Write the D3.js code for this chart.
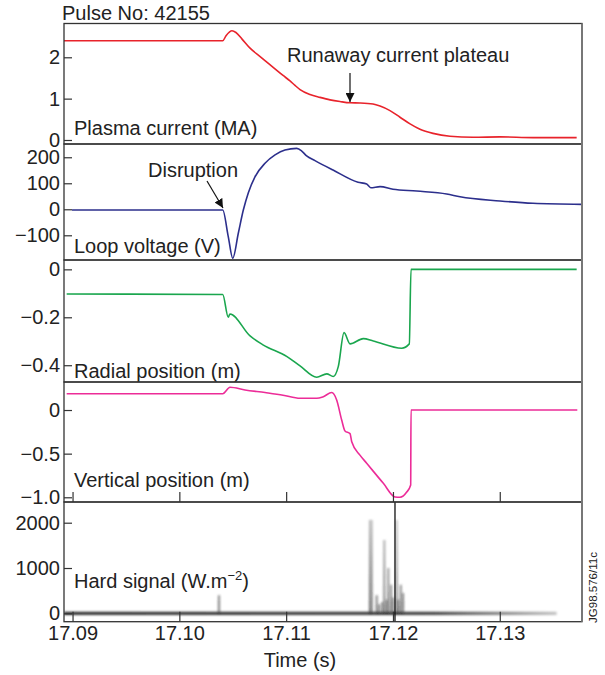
<!DOCTYPE html>
<html>
<head>
<meta charset="utf-8">
<script src="https://cdn.jsdelivr.net/npm/d3@7"></script>
<style>
body { margin: 0; background: #fff; }
text { font-family: "Liberation Sans", Arial, sans-serif; fill: #222; }
</style>
</head>
<body>
<script>
var width = 605, height = 675;
var left = 64, right = 582;

// time axis
var xTicks = [17.09, 17.10, 17.11, 17.12, 17.13];
var xTickLabels = ["17.09", "17.10", "17.11", "17.12", "17.13"];

// Plasma current (MA)
var ipTime = [17.0892, 17.10406, 17.10437, 17.10493, 17.10530, 17.10587, 17.10662, 17.10765, 17.10971, 17.11036,
  17.11083, 17.11130, 17.11223, 17.11317, 17.11411, 17.11504, 17.11598, 17.11691, 17.11813, 17.11879,
  17.11972, 17.12066, 17.12160, 17.12253, 17.12375, 17.12534, 17.12750, 17.13002, 17.13311, 17.13720];
var ipValue = [2.40, 2.40, 2.52, 2.64, 2.60, 2.44, 2.22, 2.00, 1.56, 1.43,
  1.32, 1.22, 1.10, 1.03, 0.97, 0.93, 0.90, 0.895, 0.87, 0.82,
  0.71, 0.55, 0.39, 0.26, 0.16, 0.09, 0.065, 0.075, 0.056, 0.056];
var ipTicks = [0, 1, 2];
var ipTickLabels = ["0", "1", "2"];

// Loop voltage (V)
var vlTime = [17.08995, 17.10406, 17.10458, 17.10500, 17.10552, 17.10599, 17.10646, 17.10708, 17.10802, 17.10896,
  17.10989, 17.11099, 17.11146, 17.11192, 17.11270, 17.11439, 17.11673, 17.11754, 17.11792, 17.11879,
  17.12000, 17.12222, 17.12503, 17.12628, 17.13002, 17.13311, 17.13767];
var vlValue = [-3, -3, -105, -188, -92, -3, 64, 125, 177, 209,
  228, 234, 224, 205, 187, 151, 104, 97, 83, 87,
  77, 70, 59, 48, 32, 23, 19];
var vlTicks = [-100, 0, 100, 200];
var vlTickLabels = ["\u2212100", "0", "100", "200"];

// Radial position (m)
var rpTime = [17.08945, 17.10406, 17.10458, 17.10474, 17.10662, 17.10783, 17.11008, 17.11130, 17.11286, 17.11380,
  17.11441, 17.11488, 17.11542, 17.11598, 17.11722, 17.11816, 17.12082, 17.12153, 17.12169, 17.13720];
var rpValue = [-0.103, -0.105, -0.20, -0.186, -0.278, -0.315, -0.364, -0.403, -0.45, -0.436,
  -0.447, -0.406, -0.264, -0.311, -0.289, -0.299, -0.329, -0.311, 0, 0];
var rpTicks = [-0.4, -0.2, 0];
var rpTickLabels = ["\u22120.4", "\u22120.2", "0"];

// Vertical position (m)
var zpTime = [17.08945, 17.10406, 17.10474, 17.10615, 17.10802, 17.10971, 17.11130, 17.11286, 17.11348, 17.11427,
  17.11473, 17.11520, 17.11551, 17.11598, 17.11614, 17.11691, 17.11754, 17.11910, 17.12019, 17.12066,
  17.12129, 17.12166, 17.12169, 17.13726];
var zpValue = [0.187, 0.187, 0.26, 0.23, 0.20, 0.17, 0.134, 0.134, 0.153, 0.20,
  0.115, -0.115, -0.24, -0.27, -0.364, -0.517, -0.61, -0.84, -0.996, -1.0,
  -0.94, -0.86, 0, 0];
var zpTicks = [-1.0, -0.5, 0];
var zpTickLabels = ["\u22121.0", "\u22120.5", "0"];

// Hard signal (W.m-2)
var hxStart = 17.0892, hxEnd = 17.13533;
var hxSpikeTime = [17.10371, 17.11785, 17.11800, 17.11848, 17.11870, 17.11900, 17.11919, 17.11940, 17.11956, 17.11982,
  17.12000, 17.12035, 17.12050, 17.12073, 17.12094];
var hxSpikeValue = [400, 2060, 2060, 400, 200, 250, 1620, 300, 1000, 630,
  350, 2060, 300, 630, 450];
var hxOffscale = [17.12019];
var hxTicks = [0, 1000, 2000];
var hxTickLabels = ["0", "1000", "2000"];

var svg = d3.select("body").append("svg")
    .attr("width", width)
    .attr("height", height);

var defs = svg.append("defs");
defs.append("filter").attr("id", "blur")
    .attr("filterUnits", "userSpaceOnUse")
    .attr("x", 0).attr("y", 0).attr("width", width).attr("height", height)
    .append("feGaussianBlur").attr("stdDeviation", 0.9);
var grad = defs.append("linearGradient").attr("id", "fade")
    .attr("gradientUnits", "userSpaceOnUse")
    .attr("x1", left).attr("x2", 557).attr("y1", 0).attr("y2", 0);
grad.append("stop").attr("offset", "0%").attr("stop-color", "#333");
grad.append("stop").attr("offset", "75%").attr("stop-color", "#444");
grad.append("stop").attr("offset", "100%").attr("stop-color", "#c4c4c4");
// spikes fade from dark at the base to light at the top
var sgrad = defs.append("linearGradient").attr("id", "spikeFade")
    .attr("gradientUnits", "userSpaceOnUse")
    .attr("x1", 0).attr("x2", 0).attr("y1", 614).attr("y2", 520);
sgrad.append("stop").attr("offset", "0%").attr("stop-color", "#222");
sgrad.append("stop").attr("offset", "100%").attr("stop-color", "#999");

var x = d3.scaleLinear().domain([17.0892, 17.1377]).range([left, right]);

var panels = [
  { top: 23.5, bottom: 144, domain: [-0.097, 2.817], ticks: ipTicks, labels: ipTickLabels,
    time: ipTime, value: ipValue, color: "#e8232b", title: "Plasma current (MA)", titleY: 135 },
  { top: 144, bottom: 260, domain: [-195, 251], ticks: vlTicks, labels: vlTickLabels,
    time: vlTime, value: vlValue, color: "#2c2f8c", title: "Loop voltage (V)", titleY: 253 },
  { top: 260, bottom: 382, domain: [-0.47, 0.039], ticks: rpTicks, labels: rpTickLabels,
    time: rpTime, value: rpValue, color: "#1aa64e", title: "Radial position (m)", titleY: 378 },
  { top: 382, bottom: 502, domain: [-1.054, 0.321], ticks: zpTicks, labels: zpTickLabels,
    time: zpTime, value: zpValue, color: "#ec2c98", title: "Vertical position (m)", titleY: 487 },
  { top: 502, bottom: 621.7, domain: [-185, 2457], ticks: hxTicks, labels: hxTickLabels,
    time: null, value: null, color: "#444", title: "Hard signal (W.m", titleY: 588 }
];

panels.forEach(function(p, i) {
  p.y = d3.scaleLinear().domain(p.domain).range([p.bottom, p.top]);
  var g = svg.append("g");

  g.append("clipPath").attr("id", "clip" + i)
    .append("rect")
    .attr("x", left).attr("y", p.top)
    .attr("width", right - left).attr("height", p.bottom - p.top);

  var ax = g.append("g")
      .attr("transform", "translate(" + left + ",0)")
      .call(d3.axisLeft(p.y).tickValues(p.ticks).tickSize(-8).tickPadding(4)
        .tickFormat(function(d, k) { return p.labels[k]; }));
  ax.select(".domain").remove();
  ax.selectAll("line").attr("stroke", "#333").attr("stroke-width", 1.2);
  ax.selectAll("text").style("font-size", "20px").attr("fill", "#222");

  p.titleNode = g.append("text")
    .attr("x", 74).attr("y", p.titleY)
    .style("font-size", "20px")
    .text(p.title);

  if (p.time) {
    var line = d3.line()
        .x(function(d) { return x(d[0]); })
        .y(function(d) { return p.y(d[1]); })
        .curve(d3.curveMonotoneX);
    g.append("path")
      .datum(d3.zip(p.time, p.value))
      .attr("clip-path", "url(#clip" + i + ")")
      .attr("fill", "none")
      .attr("stroke", p.color)
      .attr("stroke-width", 1.6)
      .attr("d", line);
  }
  p.g = g;
});

// hard signal marks
var hp = panels[4];
var hg = hp.g.append("g").attr("clip-path", "url(#clip4)");
hg.append("line")
  .attr("x1", x(hxStart)).attr("x2", x(hxEnd))
  .attr("y1", hp.y(0)).attr("y2", hp.y(0))
  .attr("stroke", "url(#fade)")
  .attr("stroke-width", 3.2)
  .attr("filter", "url(#blur)");
hg.selectAll(".spike")
  .data(d3.zip(hxSpikeTime, hxSpikeValue))
  .enter().append("line")
  .attr("class", "spike")
  .attr("x1", function(d) { return x(d[0]); })
  .attr("x2", function(d) { return x(d[0]) + 0.01; })
  .attr("y1", hp.y(0))
  .attr("y2", function(d) { return hp.y(d[1]); })
  .attr("stroke", "url(#spikeFade)")
  .attr("stroke-opacity", 0.55)
  .attr("stroke-width", 2.2)
  .attr("filter", "url(#blur)");
hg.selectAll(".offscale")
  .data(hxOffscale)
  .enter().append("line")
  .attr("x1", function(d) { return x(d); })
  .attr("x2", function(d) { return x(d); })
  .attr("y1", hp.y(-185)).attr("y2", hp.y(2457))
  .attr("stroke", "#111")
  .attr("stroke-width", 1.3);

// superscript on the hard signal unit
hp.titleNode.append("tspan").attr("dy", -8).style("font-size", "13px").text("\u22122");
hp.titleNode.append("tspan").attr("dy", 8).text(")");

// x ticks on the two bottom panels
[3, 4].forEach(function(i) {
  var p = panels[i];
  var xa = svg.append("g")
      .attr("transform", "translate(0," + p.bottom + ")")
      .call(d3.axisBottom(x).tickValues(xTicks).tickSize(-10).tickPadding(4)
        .tickFormat(function(d, k) { return i === 4 ? xTickLabels[k] : ""; }));
  xa.select(".domain").remove();
  xa.selectAll("line").attr("stroke", "#333").attr("stroke-width", 1.2);
  xa.selectAll("text").style("font-size", "20px").attr("fill", "#222");
});

// frames
panels.forEach(function(p) {
  svg.append("rect")
    .attr("x", left).attr("y", p.top)
    .attr("width", right - left).attr("height", p.bottom - p.top)
    .attr("fill", "none")
    .attr("stroke", "#333")
    .attr("stroke-width", 1.3);
});
svg.append("line")
  .attr("x1", right).attr("x2", right)
  .attr("y1", 23.5).attr("y2", 621.7)
  .attr("stroke", "#777").attr("stroke-width", 2);

// annotations
svg.append("text").attr("x", 62).attr("y", 19.5).style("font-size", "20px").text("Pulse No: 42155");
svg.append("text").attr("x", 300).attr("y", 667).attr("text-anchor", "middle")
  .style("font-size", "20px").text("Time (s)");
svg.append("text")
  .attr("transform", "translate(597,587.5) rotate(-90)")
  .attr("text-anchor", "middle")
  .style("font-size", "11.5px")
  .text("JG98.576/11c");

defs.append("marker").attr("id", "arrow")
  .attr("viewBox", "0 0 10 10").attr("refX", 10).attr("refY", 5)
  .attr("markerWidth", 9).attr("markerHeight", 9)
  .attr("markerUnits", "userSpaceOnUse")
  .attr("orient", "auto")
  .append("path").attr("d", "M0,0L10,5L0,10z").attr("fill", "#111");

svg.append("text").attr("x", 287).attr("y", 61.5).style("font-size", "20px").text("Runaway current plateau");
svg.append("line")
  .attr("x1", 350).attr("y1", 73).attr("x2", 350).attr("y2", 102)
  .attr("stroke", "#111").attr("stroke-width", 1.2)
  .attr("marker-end", "url(#arrow)");

svg.append("text").attr("x", 148).attr("y", 176.5).style("font-size", "20px").text("Disruption");
svg.append("line")
  .attr("x1", 207).attr("y1", 181).attr("x2", 223).attr("y2", 208)
  .attr("stroke", "#111").attr("stroke-width", 1.2)
  .attr("marker-end", "url(#arrow)");
</script>
</body>
</html>
